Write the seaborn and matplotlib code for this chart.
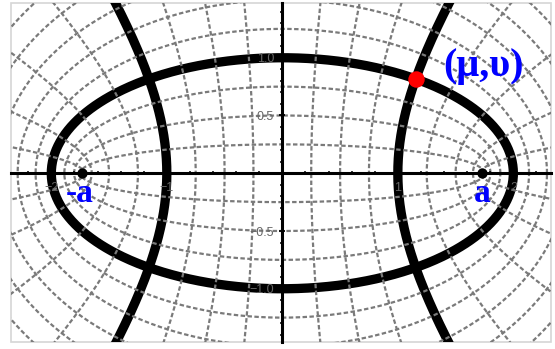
import numpy as np
import pandas as pd
import matplotlib
matplotlib.use("Agg")
import matplotlib.pyplot as plt
import seaborn as sns
from matplotlib.patches import Rectangle

# --- elliptic coordinate system, foci at +-a ---
FOCUS_A = np.sqrt(3.0)

# highlighted curves: ellipse (semi-minor 1) and hyperbola (x-intercept 1)
THICK_B = 1.0
THICK_C = 1.0

# dotted grid: ellipses by semi-minor axis, hyperbolae by x-intercept
GRID_B = [0.25, 0.5, 0.75, 1.25, 1.5, 1.75, 2.0, 2.25, 2.5]
GRID_C = [0.25, 0.5, 0.75, 1.25, 1.5, 1.65, 1.715]

X_TICKS = [-2, -1, 1, 2]
X_TICK_LABELS = ["\u22122", "\u22121", "1", "2"]
Y_TICKS = [-1.0, -0.5, 0.5, 1.0]
Y_TICK_LABELS = ["\u22121.0", "\u22120.5", "0.5", "1.0"]

X_LIM = (-2.349, 2.326)
Y_LIM = (-1.461, 1.474)


def ellipse_points(b, n=720):
    major = np.sqrt(FOCUS_A ** 2 + b ** 2)
    t = np.linspace(0, 2 * np.pi, n)
    return major * np.cos(t), b * np.sin(t)


def hyperbola_points(c, side, n=900):
    conj = np.sqrt(FOCUS_A ** 2 - c ** 2)
    t = np.linspace(-3.5, 3.5, n)
    return side * c * np.cosh(t), conj * np.sinh(t)


def curves_frame(bs, cs):
    parts = []
    for b in bs:
        x, y = ellipse_points(b)
        parts.append(pd.DataFrame({"x": x, "y": y, "curve": f"e{b}"}))
    for c in cs:
        for side in (-1, 1):
            x, y = hyperbola_points(c, side)
            parts.append(pd.DataFrame({"x": x, "y": y, "curve": f"h{c}_{side}"}))
    return pd.concat(parts, ignore_index=True)


sns.set_style("white")
plt.rcParams["font.family"] = ["Liberation Sans", "DejaVu Sans"]

fig = plt.figure(figsize=(5.55, 3.49), dpi=100)
ax = fig.add_axes([11 / 555, 7 / 349, 540 / 555, 339 / 349])

thick_df = curves_frame([THICK_B], [THICK_C])
grid_df = curves_frame(GRID_B, GRID_C)

sns.lineplot(data=thick_df, x="x", y="y", units="curve", estimator=None, sort=False,
             color="black", lw=6.7, solid_capstyle="butt", zorder=2, legend=False, ax=ax)
sns.lineplot(data=grid_df, x="x", y="y", units="curve", estimator=None, sort=False,
             color="#7a7a7a", lw=1.6, linestyle=(0, (2.0, 1.1)), zorder=3, legend=False, ax=ax)

# foci and the marked point (mu, nu)
major = np.sqrt(FOCUS_A ** 2 + THICK_B ** 2)
conj = np.sqrt(FOCUS_A ** 2 - THICK_C ** 2)
px = major * THICK_C / FOCUS_A
py = THICK_B * conj / FOCUS_A
sns.scatterplot(x=[-FOCUS_A, FOCUS_A], y=[0, 0], color="black", s=55, linewidth=0,
                zorder=6, ax=ax)
sns.scatterplot(x=[px], y=[py], color="#ff0000", s=140, linewidth=0, zorder=7, ax=ax)

label_kw = dict(color="#0000ff", fontweight="bold", family=["Liberation Serif", "DejaVu Serif"])
ax.text(px + 0.59, py + 0.11, "(\u03bc,\u03c5)", fontsize=29, ha="center", va="center", zorder=8, **label_kw)
ax.text(FOCUS_A, -0.25, "a", fontsize=24, ha="center", va="baseline", zorder=8, **label_kw)
ax.text(-FOCUS_A - 0.02, -0.25, "-a", fontsize=24, ha="center", va="baseline", zorder=8, **label_kw)

# axes through the origin
ax.set_xlim(*X_LIM)
ax.set_ylim(*Y_LIM)
for side in ("top", "right"):
    ax.spines[side].set_visible(False)
for side in ("left", "bottom"):
    ax.spines[side].set_position(("data", 0))
    ax.spines[side].set_linewidth(2.2)
    ax.spines[side].set_color("black")
    ax.spines[side].set_zorder(4)
ax.xaxis.set_zorder(5)
ax.yaxis.set_zorder(5)

ax.set_xticks(X_TICKS)
ax.set_xticklabels(X_TICK_LABELS)
ax.set_yticks(Y_TICKS)
ax.set_yticklabels(Y_TICK_LABELS)
ax.set_xticks(np.arange(-2.2, 2.3, 0.2), minor=True)
ax.set_yticks(np.arange(-1.4, 1.45, 0.1), minor=True)
ax.tick_params(which="both", direction="inout", color="black", labelcolor="#666666",
               labelsize=9, left=True, bottom=True)
ax.tick_params(which="major", length=5, width=1.3)
ax.tick_params(which="minor", length=3.5, width=1.1)
ax.set_xlabel("")
ax.set_ylabel("")

ax.add_patch(Rectangle((0, 0), 1, 1, transform=ax.transAxes, fill=False,
                       ec="#d6d6d6", lw=1.2, clip_on=False, zorder=1))

fig.savefig("out.png", dpi=100, facecolor="white")
